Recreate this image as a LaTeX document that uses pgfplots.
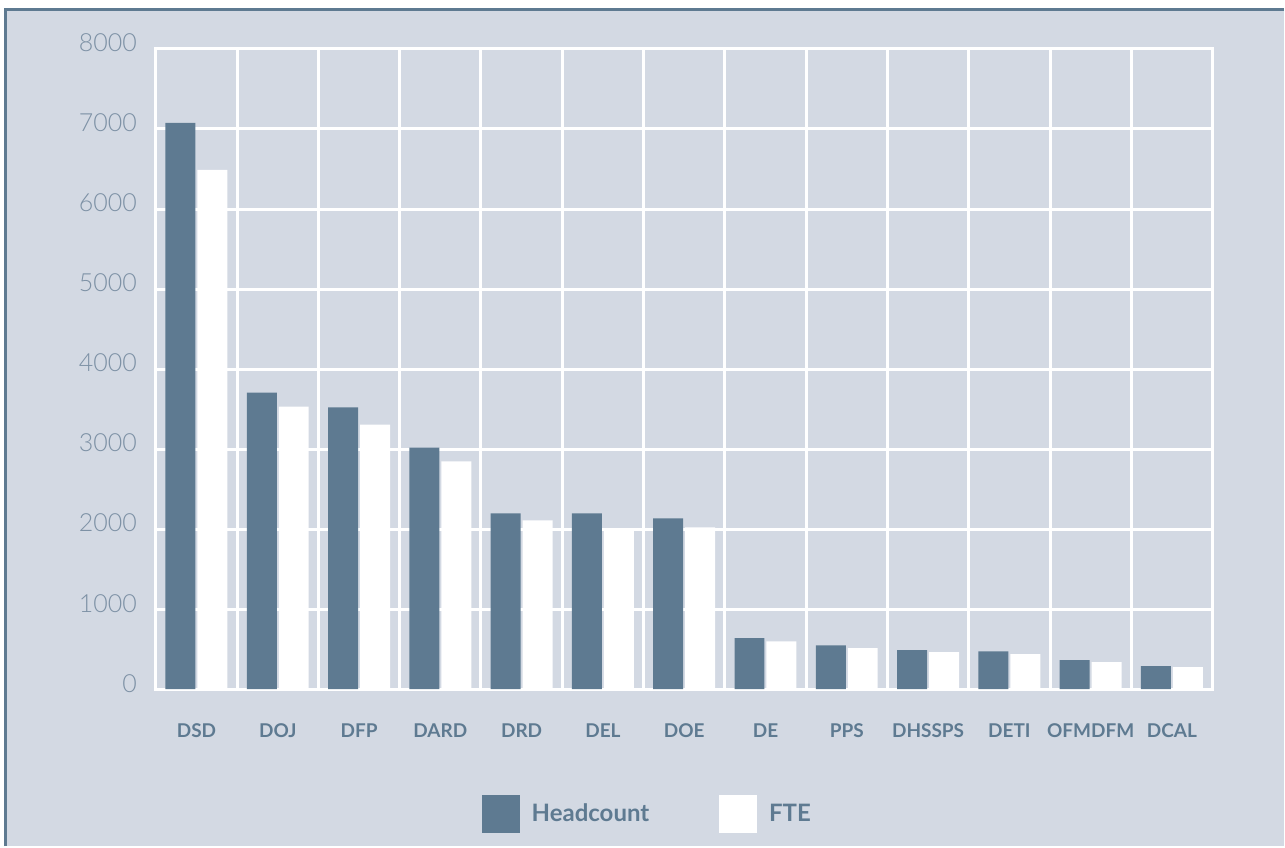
\documentclass[border=0pt]{standalone}
\usepackage{fontspec}
\setmainfont{Lato}
\newfontfamily\lightfont{Lato Light}
\usepackage{pgfplots}
\pgfplotsset{compat=1.18}
\definecolor{bgcol}{HTML}{D3D9E3}
\definecolor{barcol}{HTML}{5E7A91}
\definecolor{tickcol}{HTML}{7D91A5}
\begin{document}
\begin{tikzpicture}
% page and panel (1px = 0.5pt, axis origin at pixel (156,690))
\fill[white] (-78pt,-78.5pt) rectangle (564.5pt,345pt);
\fill[bgcol] (-76pt,-78.5pt) rectangle (564.5pt,341pt);
\draw[barcol, line width=1.5pt] (-75.25pt,-78.5pt) -- (-75.25pt,340.25pt) -- (564.5pt,340.25pt);
\begin{axis}[
  scale only axis,
  width=529pt, height=320.5pt,
  ybar=1pt, bar width=15pt,
  xmin=-0.5, xmax=12.5,
  ymin=0, ymax=8000,
  xtick=data,
  xticklabels={DSD,DOJ,DFP,DARD,DRD,DEL,DOE,DE,PPS,DHSSPS,DETI,OFMDFM,DCAL},
  minor xtick={-0.5,0.5,...,12.5},
  ytick={0,1000,...,8000},
  xmajorgrids=false, xminorgrids=true, ymajorgrids=true,
  grid style={white, line width=1.5pt},
  minor grid style={white, line width=1.5pt},
  axis line style={white, line width=1.5pt},
  major tick length=0pt, minor tick length=0pt,
  /pgf/number format/assume math mode=true,
  /pgf/number format/set thousands separator={},
  yticklabel style={font=\lightfont\fontsize{12.5}{14}\selectfont, text=tickcol, xshift=-6pt, yshift=3pt},
  xticklabel style={font=\bfseries\fontsize{9.5}{11}\selectfont, text=barcol, anchor=base, yshift=-24pt},
  legend style={at={(0.466,-0.195)}, anchor=center, draw=none, fill=none,
    font=\bfseries\fontsize{12}{14}\selectfont, text=barcol,
    /tikz/every even column/.append style={column sep=33pt}},
  legend columns=2,
  legend image code/.code={\fill[#1] (0pt,-9.5pt) rectangle (19pt,9.5pt); \path (23pt,0pt);},
]
\addplot[fill=barcol, draw=none] coordinates {
 (0,7076) (1,3707) (2,3520) (3,3020) (4,2197) (5,2197) (6,2134)
 (7,637) (8,549) (9,487) (10,474) (11,362) (12,287)};
\addplot[fill=white, draw=none] coordinates {
 (0,6490) (1,3532) (2,3307) (3,2846) (4,2109) (5,1997) (6,2022)
 (7,599) (8,512) (9,462) (10,437) (11,337) (12,275)};
\legend{Headcount,FTE}
\end{axis}
\end{tikzpicture}
\end{document}
